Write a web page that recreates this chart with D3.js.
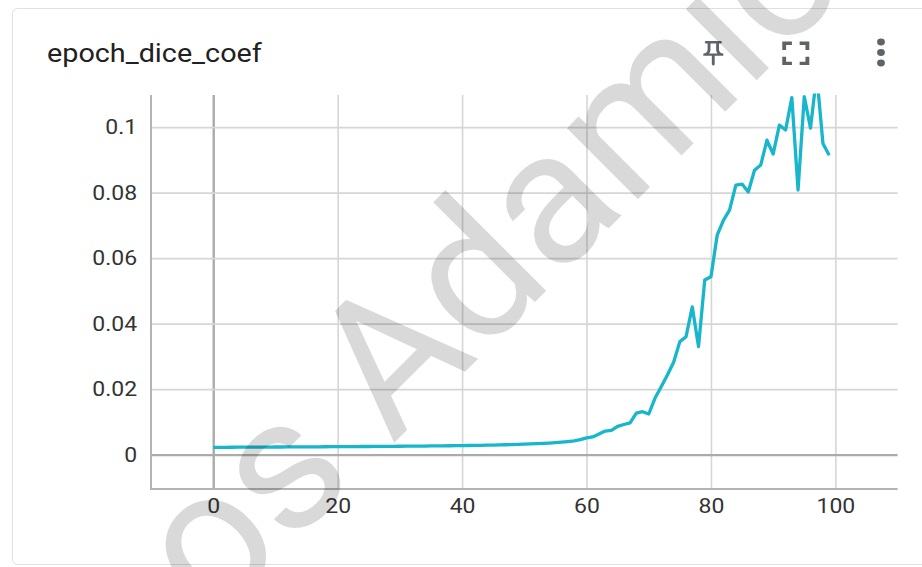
<!DOCTYPE html>
<html>
<head>
<meta charset="utf-8">
<script src="https://cdn.jsdelivr.net/npm/d3@7"></script>
<style>
  html, body { margin: 0; padding: 0; background: #fff; }
  svg { display: block; }
  text { font-family: Roboto, "Noto Sans", sans-serif; }
</style>
</head>
<body>
<svg id="chart" width="922" height="567"></svg>
<script>
// Scalar run: dice coefficient per training epoch
const title = "epoch_dice_coef";
const diceCoef = [
  0.00222, 0.00223, 0.00224, 0.00225, 0.00226, 0.00227, 0.00228, 0.00229, 0.0023, 0.00231,
  0.00232, 0.00233, 0.00234, 0.00235, 0.00236, 0.00237, 0.00238, 0.00239, 0.0024, 0.00241,
  0.00242, 0.00243, 0.00245, 0.00246, 0.00247, 0.00248, 0.0025, 0.00251, 0.00252, 0.00254,
  0.00255, 0.00257, 0.00258, 0.0026, 0.00262, 0.00264, 0.00266, 0.00268, 0.0027, 0.00272,
  0.00275, 0.00278, 0.00281, 0.00284, 0.00288, 0.00292, 0.00296, 0.00301, 0.00306, 0.00312,
  0.00318, 0.00325, 0.00333, 0.00342, 0.00352, 0.00365, 0.0038, 0.00398, 0.0042, 0.00455,
  0.0051, 0.0054, 0.0063, 0.0072, 0.0074, 0.0086, 0.0092, 0.0097, 0.0127, 0.0131,
  0.0124, 0.0172, 0.0207, 0.0243, 0.0282, 0.0345, 0.036, 0.0451, 0.033, 0.0533,
  0.0543, 0.067, 0.0715, 0.0747, 0.0823, 0.0826, 0.0802, 0.0868, 0.0884, 0.096,
  0.0918, 0.1006, 0.0991, 0.109, 0.0808, 0.1093, 0.0997, 0.116, 0.095, 0.0914
];
const xTicks = [0, 20, 40, 60, 80, 100];
const yTicks = [0, 0.02, 0.04, 0.06, 0.08, 0.1];
const xDomain = [-10, 110];
const yDomain = [-0.0105, 0.1098];
const watermark = "os Adamic";

const svg = d3.select("#chart");
const plot = { left: 151, right: 897.6, top: 95, bottom: 489 };
const stretch = 1.15;

// card
svg.append("rect")
  .attr("x", 12.5).attr("y", 8.5)
  .attr("width", 1000).attr("height", 556)
  .attr("rx", 5)
  .attr("fill", "#fff")
  .attr("stroke", "#e0e0e0");

// title
svg.append("text")
  .attr("transform", `translate(47,62) scale(${stretch},1)`)
  .attr("font-size", 25)
  .attr("fill", "#212121")
  .text(title);

// header icons: pin, fullscreen, menu
const iconColor = "#5f6368";
svg.append("path")
  .attr("transform", `translate(696.2,38.5) scale(${1.24 * stretch},1.24)`)
  .attr("fill", iconColor)
  .attr("d", "M14 4v5c0 1.12.37 2.16 1 3H9c.65-.86 1-1.9 1-3V4h4m3-2H7c-.55 0-1 .45-1 1s.45 1 1 1h1v5c0 1.66-1.34 3-3 3v2h5.970v7l1 1 1-1v-7H19v-2c-1.66 0-3-1.34-3-3V4h1c.55 0 1-.45 1-1s-.45-1-1-1z");
svg.append("path")
  .attr("transform", `translate(772.6,33.2) scale(${1.68 * stretch},1.68)`)
  .attr("fill", iconColor)
  .attr("d", "M7 14H5v5h5v-2H7v-3zm-2-4h2V7h3V5H5v5zm12 7h-3v2h5v-5h-2v3zM14 5v2h3v3h2V5h-5z");
[42, 52.5, 63].forEach(cy => {
  svg.append("ellipse")
    .attr("cx", 881).attr("cy", cy)
    .attr("rx", 3.9).attr("ry", 3.4)
    .attr("fill", iconColor);
});

// scales
const x = d3.scaleLinear().domain(xDomain).range([plot.left, plot.right]);
const y = d3.scaleLinear().domain(yDomain).range([plot.bottom, plot.top]);

// gridlines
const gridX = svg.append("g")
  .attr("transform", `translate(0,${plot.bottom})`)
  .call(d3.axisBottom(x).tickValues(xTicks).tickSize(-(plot.bottom - plot.top)).tickFormat(""));
const gridY = svg.append("g")
  .attr("transform", `translate(${plot.left},0)`)
  .call(d3.axisLeft(y).tickValues(yTicks).tickSize(-(plot.right - plot.left)).tickFormat(""));
[gridX, gridY].forEach(g => {
  g.select(".domain").remove();
  g.selectAll(".tick line")
    .attr("stroke", d => d === 0 ? "#ababab" : "#d6d6d6")
    .attr("stroke-width", d => d === 0 ? 2.4 : 1.6);
});

// axis lines
svg.append("line")
  .attr("x1", plot.left).attr("x2", plot.left)
  .attr("y1", plot.top).attr("y2", plot.bottom)
  .attr("stroke", "#b3b3b3").attr("stroke-width", 2);
svg.append("line")
  .attr("x1", plot.left - 1).attr("x2", plot.right)
  .attr("y1", plot.bottom).attr("y2", plot.bottom)
  .attr("stroke", "#b3b3b3").attr("stroke-width", 2);

// tick labels
const xAxis = svg.append("g")
  .attr("transform", `translate(0,${plot.bottom})`)
  .call(d3.axisBottom(x).tickValues(xTicks).tickSize(0).tickPadding(10).tickFormat(d => String(d)));
const yAxis = svg.append("g")
  .attr("transform", `translate(${plot.left},0)`)
  .call(d3.axisLeft(y).tickValues(yTicks).tickSize(0).tickPadding(12).tickFormat(d => String(d)));
[xAxis, yAxis].forEach(g => {
  g.select(".domain").remove();
  g.selectAll("text")
    .attr("font-family", "Roboto, sans-serif")
    .attr("font-size", 20)
    .attr("fill", "#333")
    .attr("transform", `scale(${stretch},1)`);
});

// series line, clipped to plot area
svg.append("clipPath").attr("id", "plotClip")
  .append("rect")
  .attr("x", plot.left).attr("y", plot.top - 1.5)
  .attr("width", plot.right - plot.left).attr("height", plot.bottom - plot.top + 1.5);

const line = d3.line()
  .x((d, i) => x(i))
  .y(d => y(d));

svg.append("path")
  .datum(diceCoef)
  .attr("clip-path", "url(#plotClip)")
  .attr("fill", "none")
  .attr("stroke", "#17b6cb")
  .attr("stroke-width", 3.3)
  .attr("stroke-linejoin", "round")
  .attr("d", line);

// watermark overlay
svg.append("text")
  .attr("transform", "translate(213,624) rotate(-45)")
  .attr("font-family", "'Liberation Sans', Arial, sans-serif")
  .attr("font-size", 190)
  .attr("fill", "#000")
  .attr("fill-opacity", 0.15)
  .text(watermark);
</script>
</body>
</html>
